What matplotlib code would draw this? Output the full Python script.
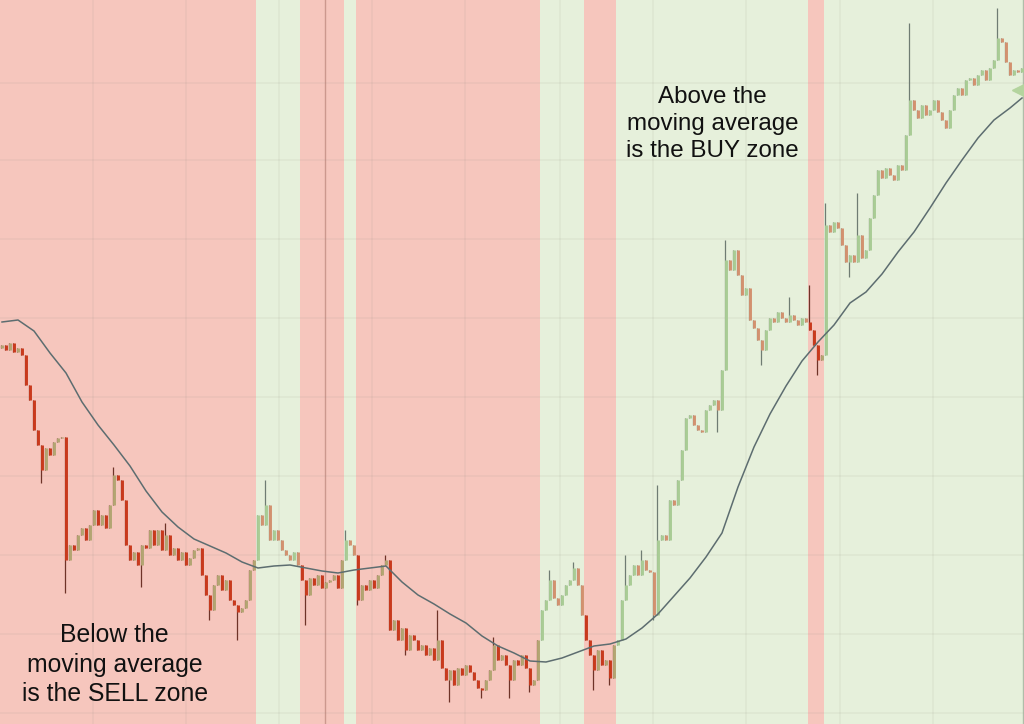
import matplotlib.pyplot as plt

# closing prices, one per bar (arbitrary price units)
close = [
    379, 374, 381, 372, 376, 369,
    339, 324, 294, 279, 254, 276, 269, 282, 286, 287,
    164, 179, 174, 189, 196, 184, 199, 214, 199, 209, 196, 219, 249, 244,
    224, 179, 164, 172, 159, 179, 176, 194, 179, 194,
    174, 189, 169, 176, 164, 172, 159, 166, 174, 176,
    149, 129, 114, 139, 149, 134, 144, 124, 119, 112,
    116, 124, 154, 164, 209, 199, 219, 184, 194, 184,
    174, 169, 164, 172, 159, 144, 129, 146, 139, 149,
    136, 142, 144, 149, 136, 164, 184, 179, 169, 124,
    139, 134, 144, 136, 149, 159, 164, 94, 104, 84,
    96, 74, 89, 84, 74, 79, 69, 76, 64, 84,
    56, 44, 54, 39, 56, 49, 59, 52, 44, 36,
    34, 44, 54, 79, 64, 69, 59, 44, 64, 59,
    69, 56, 39, 44, 84, 114, 124, 144, 126, 119,
    129, 139, 144, 156, 139, 109, 84, 69, 54, 74,
    59, 64, 46, 79, 84, 124, 139, 149, 159, 149,
    164, 154, 152, 109, 184, 189, 184, 224, 219, 244,
    274, 306, 309, 299, 294, 292, 314, 319, 324, 314,
    354, 464, 454, 474, 449, 429, 436, 404, 396, 384,
    374, 394, 406, 402, 412, 406, 402, 409, 404, 399,
    406, 402, 394, 379, 364, 369, 499, 492, 502, 496,
    479, 462, 469, 462, 489, 466, 474, 506, 529, 554,
    546, 556, 549, 544, 559, 554, 589, 624, 614, 606,
    619, 609, 614, 624, 612, 604, 596, 614, 629, 636,
    629, 644, 646, 639, 649, 654, 644, 656, 664, 686,
    682, 662, 649, 654, 652, 656,
]
first_open = 376

# long wicks (bar index -> extreme price)
spikes = {
    10: 241, 16: 131, 28: 257, 35: 137, 41: 201, 52: 104, 59: 84,
    66: 244, 76: 99, 86: 194, 89: 119, 96: 169, 101: 69, 109: 114,
    112: 22, 120: 26, 123: 87, 127: 26, 132: 32, 137: 154, 143: 162,
    148: 34, 152: 39, 156: 169, 160: 174, 163: 104, 164: 239, 179: 292,
    181: 484, 190: 359, 197: 427, 202: 439, 204: 349, 206: 521,
    212: 447, 214: 531, 227: 701, 249: 716,
}

# moving average, sampled every 4 bars
ma_bars = list(range(0, 256, 4)) + [255]
ma_vals = [
    402, 404, 393, 371, 351, 322, 299, 279, 258, 233, 212, 197, 185,
    178, 171, 162, 156, 158, 159, 156, 153, 151, 154, 156, 158, 142,
    129, 120, 110, 101, 88, 78, 71, 63, 62, 66, 72, 78, 80, 85, 96,
    110, 128, 146, 167, 191, 237, 277, 310, 338, 363, 382, 399, 421,
    432, 450, 472, 492, 516, 541, 564, 586, 604, 616, 626,
]

# shaded zones (bar-index edges)
zone_edges = [-0.5, 63.5, 74.5, 85.5, 88.5, 134.5, 145.5, 153.5,
              201.5, 205.5, 255.5]
zone_kind = ['sell', 'buy', 'sell', 'buy', 'sell', 'buy', 'sell', 'buy',
             'sell', 'buy']

grid_x = [22.75, 46, 69.25, 92.5, 115.75, 139.5, 162.75, 186, 209.5, 232.75]
grid_y = [11, 90, 169, 248, 327, 406, 485, 564, 641]

ZONE_COLOR = {'sell': '#f6c6bd', 'buy': '#e6f0db'}
BAR_COLOR = {
    ('sell', 'up'): '#b3a572', ('sell', 'down'): '#c93a1d',
    ('buy', 'up'): '#a9cc95', ('buy', 'down'): '#d3916f',
}
WICK_COLOR = {'sell': '#6e3328', 'buy': '#6f7c73'}


def zone_of(i):
    for k in range(len(zone_kind)):
        if zone_edges[k] <= i < zone_edges[k + 1]:
            return zone_kind[k]
    return zone_kind[-1]


fig = plt.figure(figsize=(10.24, 7.24), dpi=100)
ax = fig.add_axes([0, 0, 1, 1])

for k, kind in enumerate(zone_kind):
    ax.axvspan(zone_edges[k], zone_edges[k + 1], color=ZONE_COLOR[kind],
               lw=0, zorder=0)

for gx in grid_x:
    ax.axvline(gx, color='#8a8a7a', alpha=0.09, lw=1.2, zorder=1)
for gy in grid_y:
    ax.axhline(gy, color='#8a8a7a', alpha=0.09, lw=1.2, zorder=1)
ax.axvline(80.75, color='#b07a70', alpha=0.6, lw=1, zorder=1)
ax.axvline(255.2, color='#9aa894', alpha=0.7, lw=1, zorder=1)

opens = [first_open] + close[:-1]
for i, (o, c) in enumerate(zip(opens, close)):
    kind = zone_of(i)
    ext = spikes.get(i, c)
    lo, hi = min(o, c, ext), max(o, c, ext)
    ax.vlines(i - 0.3, lo, hi, color=WICK_COLOR[kind], lw=0.9, zorder=2)
    direction = 'up' if c >= o else 'down'
    ax.vlines(i + 0.1, min(o, c), max(o, c) + 0.5,
              color=BAR_COLOR[(kind, direction)], lw=2.1, zorder=3)

ax.plot(ma_bars, ma_vals, color='#5d6d70', lw=1.1, zorder=4)
ax.plot([255], [634], marker='<', markersize=15, color='#b4d49e',
        clip_on=True, zorder=5)

ax.text(0.112, 0.082, "Below the\nmoving average\nis the SELL zone",
        transform=ax.transAxes, ha='center', va='center',
        multialignment='center', fontsize=17.8, family='Liberation Sans',
        color='#111111', linespacing=1.3, zorder=6)
ax.text(0.696, 0.829, "Above the\nmoving average\nis the BUY zone",
        transform=ax.transAxes, ha='center', va='center',
        multialignment='center', fontsize=17.4, family='Liberation Sans',
        color='#111111', linespacing=1.3, zorder=6)

ax.set_xlim(-0.5, 255.5)
ax.set_ylim(0, 724)
ax.set_xticks([])
ax.set_yticks([])
for s in ax.spines.values():
    s.set_visible(False)

fig.savefig('out.png', dpi=100)
